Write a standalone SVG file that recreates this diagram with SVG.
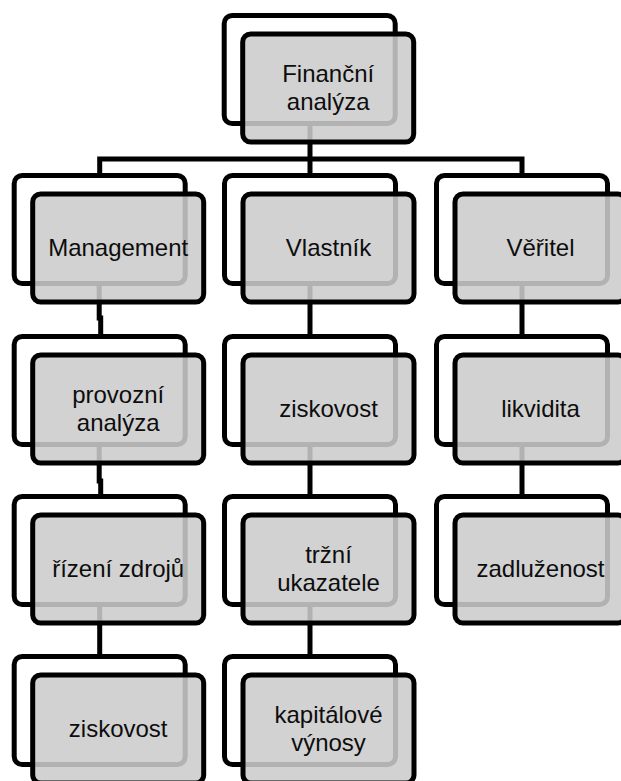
<svg xmlns="http://www.w3.org/2000/svg" width="621" height="781" viewBox="0 0 621 781">
<style>
.bg{fill:#ffffff;stroke:#000000;stroke-width:5}
.fg{fill:rgb(203,203,203);fill-opacity:0.875;stroke:#000000;stroke-width:5}
.cn{fill:none;stroke:#000000;stroke-width:5}
text{font-family:"Liberation Sans",Arial,sans-serif;font-size:24px;fill:#0d0d0d;text-anchor:middle}
</style>
<rect width="621" height="781" fill="#ffffff"/>
<g id="connectors">
<path class="cn" d="M310,124 V159"/>
<path class="cn" d="M99.7,176 V159 H522 V176"/>
<path class="cn" d="M310,159 V176"/>
<path class="cn" d="M99.2,283 V318 H100.7 V337"/>
<path class="cn" d="M99.2,444 V481 H100.7 V497"/>
<path class="cn" d="M99.7,604 V657"/>
<path class="cn" d="M310,283 V337"/>
<path class="cn" d="M310,444 V497"/>
<path class="cn" d="M310,604 V657"/>
<path class="cn" d="M522,283 V337"/>
<path class="cn" d="M522,444 V497"/>
</g>
<g id="node-financni-analyza">
<rect class="bg" x="224.2" y="15.5" width="171" height="108" rx="8"/>
<rect class="fg" x="242.7" y="34" width="171" height="108" rx="8"/>
<text x="328.2" y="82"><tspan x="328.2">Finanční</tspan><tspan x="328.2" dy="28">analýza</tspan></text>
</g>
<g id="node-management">
<rect class="bg" x="14.2" y="175.5" width="171" height="108" rx="8"/>
<rect class="fg" x="32.7" y="194" width="171" height="108" rx="8"/>
<text x="118.2" y="256">Management</text>
</g>
<g id="node-vlastnik">
<rect class="bg" x="224.5" y="175.5" width="171" height="108" rx="8"/>
<rect class="fg" x="243" y="194" width="171" height="108" rx="8"/>
<text x="328.5" y="256">Vlastník</text>
</g>
<g id="node-veritel">
<rect class="bg" x="436.5" y="175.5" width="171" height="108" rx="8"/>
<rect class="fg" x="455" y="194" width="171" height="108" rx="8"/>
<text x="540.5" y="256">Věřitel</text>
</g>
<g id="node-provozni-analyza">
<rect class="bg" x="14.2" y="336.5" width="171" height="108" rx="8"/>
<rect class="fg" x="32.7" y="355" width="171" height="108" rx="8"/>
<text x="118.2" y="402.5"><tspan x="118.2">provozní</tspan><tspan x="118.2" dy="28">analýza</tspan></text>
</g>
<g id="node-ziskovost-vlastnik">
<rect class="bg" x="224.5" y="336.5" width="171" height="108" rx="8"/>
<rect class="fg" x="243" y="355" width="171" height="108" rx="8"/>
<text x="328.5" y="417">ziskovost</text>
</g>
<g id="node-likvidita">
<rect class="bg" x="436.5" y="336.5" width="171" height="108" rx="8"/>
<rect class="fg" x="455" y="355" width="171" height="108" rx="8"/>
<text x="540.5" y="417">likvidita</text>
</g>
<g id="node-rizeni-zdroju">
<rect class="bg" x="14.2" y="496.5" width="171" height="108" rx="8"/>
<rect class="fg" x="32.7" y="515" width="171" height="108" rx="8"/>
<text x="118.2" y="577">řízení zdrojů</text>
</g>
<g id="node-trzni-ukazatele">
<rect class="bg" x="224.5" y="496.5" width="171" height="108" rx="8"/>
<rect class="fg" x="243" y="515" width="171" height="108" rx="8"/>
<text x="328.5" y="562.5"><tspan x="328.5">tržní</tspan><tspan x="328.5" dy="28">ukazatele</tspan></text>
</g>
<g id="node-zadluzenost">
<rect class="bg" x="436.5" y="496.5" width="171" height="108" rx="8"/>
<rect class="fg" x="455" y="515" width="171" height="108" rx="8"/>
<text x="540.5" y="577">zadluženost</text>
</g>
<g id="node-ziskovost-management">
<rect class="bg" x="14.2" y="656.5" width="171" height="108" rx="8"/>
<rect class="fg" x="32.7" y="675" width="171" height="108" rx="8"/>
<text x="118.2" y="737">ziskovost</text>
</g>
<g id="node-kapitalove-vynosy">
<rect class="bg" x="224.5" y="656.5" width="171" height="108" rx="8"/>
<rect class="fg" x="243" y="675" width="171" height="108" rx="8"/>
<text x="328.5" y="722.5"><tspan x="328.5">kapitálové</tspan><tspan x="328.5" dy="28">výnosy</tspan></text>
</g>
</svg>
